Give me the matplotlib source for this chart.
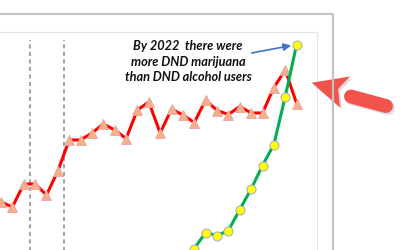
import numpy as np
import matplotlib
matplotlib.use("Agg")
import matplotlib.pyplot as plt
from matplotlib.patches import Polygon
from matplotlib.lines import Line2D

# data
years = np.arange(1996, 2023)
alcohol = [19.6, 18.6, 23.2, 23.2, 21.0, 25.8, 32.0, 32.0, 33.4, 35.2,
           34.0, 32.3, 38.0, 39.6, 33.4, 38.2, 37.0, 35.5, 40.0, 37.9,
           37.1, 38.7, 37.4, 37.4, 42.5, 46.0, 39.3]
mj_years = np.arange(2013, 2023)
marijuana = [10.3, 13.5, 12.9, 13.9, 18.1, 22.2, 26.9, 31.1, 40.7, 51.1]
breaks = [1998.55, 2001.54]
note = "By 2022  there were\nmore DND marijuana\nthan DND alcohol users"

fig = plt.figure(figsize=(4, 2.5), dpi=100)
ax = fig.add_axes([0, 0, 316.7 / 400, 218 / 250])
ax.set_xlim(1995.912, 2023.766)
ax.set_ylim(10, 53.6)
ax.set_xticks([])
ax.set_yticks([])
for side in ['left', 'bottom']:
    ax.spines[side].set_visible(False)
for side in ['top', 'right']:
    ax.spines[side].set_color('#e4e4e4')
    ax.spines[side].set_linewidth(0.8)

ax.vlines(breaks, 5, 52, colors='#a6a6a6', linewidth=1.5,
          linestyles=(0, (2, 1.6)), zorder=1)

ax.plot(years, alcohol, '-^', color='#ff0000', lw=2.2, ms=7,
        mfc='#f5b08a', mec='#eaa3a0', mew=0.6, zorder=3, clip_on=False)
ax.plot(mj_years, marijuana, '-o', color='#00b050', lw=2.2, ms=6.5,
        mfc='#ffff00', mec='#a9a3c9', mew=0.7, zorder=4)

ax.text(2012.45, 47.7, note, ha='center', va='center', fontsize=9.2,
        family='Lato', weight='bold', style='italic', linespacing=1.32,
        color='#111111')
ax.annotate('', xy=(2022, 51.1), xytext=(2018.05, 49.4),
            arrowprops=dict(arrowstyle='-|>,head_length=0.45,head_width=0.22',
                            color='#4472c4', lw=1.2, shrinkB=4, shrinkA=0))

# decorations in pixel space
deco = fig.add_axes([0, 0, 1, 1], zorder=5)
deco.set_xlim(0, 400)
deco.set_ylim(250, 0)
deco.axis('off')
deco.patch.set_alpha(0)
deco.add_line(Line2D([-5, 333, 333], [14, 14, 260], color='#c3c3c3', lw=1.6))

# big red arrow (with soft shadow)
head = [(311.7, 82.7), (350, 76.5), (338, 89), (340, 107.5)]
for dx, col, a in [(2, '#999999', 0.35), (0, '#f2534b', 1)]:
    deco.add_patch(Polygon([(x + dx, y + dx) for x, y in head], closed=True,
                           fc=col, ec='none', alpha=a))
    deco.add_line(Line2D([351 + dx, 386 + dx], [96.5 + dx, 106 + dx], color=col,
                         lw=10, solid_capstyle='round', alpha=a))

fig.savefig("out.png", dpi=100)
